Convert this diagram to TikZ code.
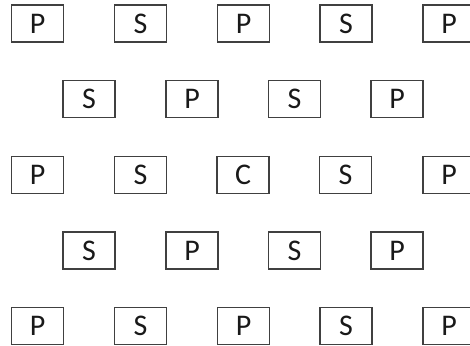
\documentclass[tikz,border=0pt]{standalone}
\usepackage{fontspec}
\setmainfont{Carlito}
\begin{document}
\begin{tikzpicture}[x=1pt,y=-1pt,
  cell/.style={draw=black!75, line width=1.1pt, minimum width=52pt, minimum height=37pt, inner sep=0pt, font=\fontsize{30}{30}\selectfont, text=black!90, anchor=center}]
\useasboundingbox (0,0) rectangle (470,345);
% row 1
\node[cell] (r1a) at (37.5,23.5) {P};
\node[cell] (r1b) at (140.5,23.5) {S};
\node[cell] (r1c) at (243.5,23.5) {P};
\node[cell] (r1d) at (346,23.5) {S};
\node[cell] (r1e) at (449,23.5) {P};
% row 2
\node[cell] (r2a) at (89,99) {S};
\node[cell] (r2b) at (192,99) {P};
\node[cell] (r2c) at (294.5,99) {S};
\node[cell] (r2d) at (397,99) {P};
% row 3
\node[cell] (r3a) at (37.5,175) {P};
\node[cell] (r3b) at (140.5,175) {S};
\node[cell] (r3c) at (243,175) {C};
\node[cell] (r3d) at (345.5,175) {S};
\node[cell] (r3e) at (449,175) {P};
% row 4
\node[cell] (r4a) at (89,250.5) {S};
\node[cell] (r4b) at (192,250.5) {P};
\node[cell] (r4c) at (294.5,250.5) {S};
\node[cell] (r4d) at (397,250.5) {P};
% row 5
\node[cell] (r5a) at (37.5,326) {P};
\node[cell] (r5b) at (140.5,326) {S};
\node[cell] (r5c) at (243.5,326) {P};
\node[cell] (r5d) at (346,326) {S};
\node[cell] (r5e) at (449,326) {P};
\end{tikzpicture}
\end{document}
